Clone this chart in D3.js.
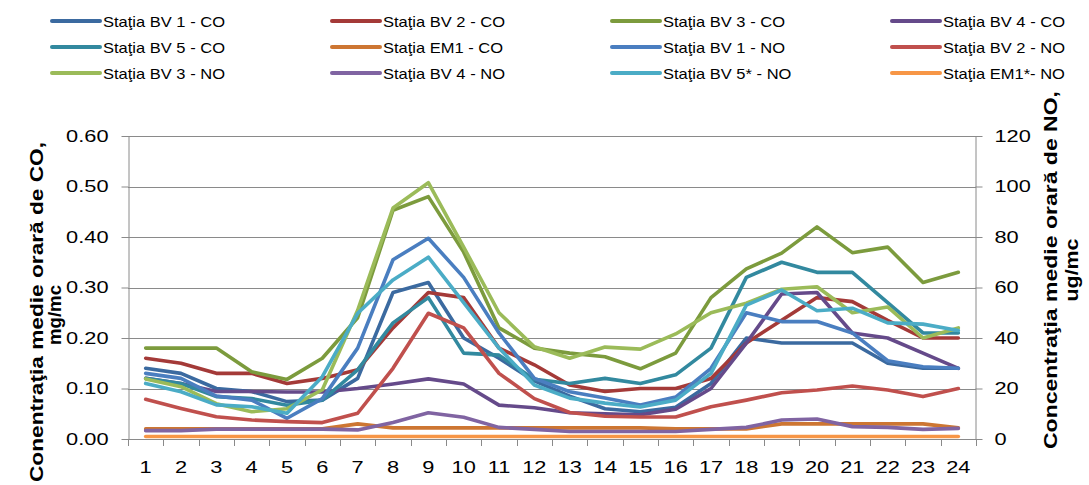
<!DOCTYPE html>
<html><head><meta charset="utf-8">
<script src="https://cdn.jsdelivr.net/npm/d3@7/dist/d3.min.js"></script>
<style>body{margin:0;background:#fff}svg{display:block}</style>
</head><body>
<svg id="c" width="1089" height="485"></svg>
<script>
// ---------- data ----------
const hours = ["1","2","3","4","5","6","7","8","9","10","11","12","13","14","15","16","17","18","19","20","21","22","23","24"];
const coTicks = [0, 0.1, 0.2, 0.3, 0.4, 0.5, 0.6];
const noTicks = [0, 20, 40, 60, 80, 100, 120];
const seriesNames = ["Staţia BV 1 - CO","Staţia BV 2 - CO","Staţia BV 3 - CO","Staţia BV 4 - CO",
  "Staţia BV 5 - CO","Staţia EM1 - CO","Staţia BV 1 - NO","Staţia BV 2 - NO",
  "Staţia BV 3 - NO","Staţia BV 4 - NO","Staţia BV 5* - NO","Staţia EM1*- NO"];
// CO, mg/mc (left axis)
const bv1CO = [0.14,0.13,0.10,0.094,0.074,0.077,0.12,0.29,0.31,0.20,0.16,0.115,0.085,0.06,0.054,0.063,0.11,0.20,0.19,0.19,0.19,0.15,0.14,0.14];
const bv2CO = [0.16,0.15,0.13,0.13,0.11,0.12,0.137,0.22,0.29,0.28,0.18,0.147,0.107,0.094,0.10,0.10,0.12,0.19,0.235,0.28,0.272,0.235,0.20,0.20];
const bv3CO = [0.18,0.18,0.18,0.133,0.118,0.16,0.24,0.453,0.48,0.37,0.22,0.18,0.17,0.163,0.139,0.17,0.28,0.337,0.368,0.42,0.369,0.38,0.31,0.33];
const bv4CO = [0.12,0.11,0.094,0.094,0.093,0.093,0.10,0.109,0.119,0.109,0.067,0.062,0.052,0.05,0.048,0.059,0.10,0.19,0.287,0.29,0.21,0.20,0.17,0.14];
const bv5CO = [0.12,0.11,0.084,0.08,0.067,0.077,0.137,0.23,0.28,0.17,0.166,0.118,0.11,0.12,0.11,0.127,0.18,0.32,0.35,0.33,0.33,0.27,0.21,0.21];
const em1CO = [0.02,0.02,0.02,0.02,0.02,0.02,0.03,0.022,0.022,0.022,0.022,0.022,0.022,0.022,0.022,0.02,0.02,0.02,0.03,0.03,0.03,0.03,0.03,0.022];
// NO, ug/mc (right axis)
const bv1NO = [26,24,17,15.4,8.2,16,36,71,79.5,64,42,24,18.7,16.2,13.5,16.6,28,50,46.5,46.5,42,31,28.6,28];
const bv2NO = [15.7,12.1,8.8,7.5,6.9,6.5,10.2,28,49.8,44,26,16,10.5,9,8.7,8.7,12.8,15.4,18.3,19.4,21,19.4,16.8,20];
const bv3NO = [23.8,20.7,14,10.8,12,19.5,51,91.5,101.5,76,50,36.5,32,36.4,35.6,41.6,50,53.8,59.3,60.3,50,52.3,40,44];
const bv4NO = [3.3,3.3,3.9,3.9,3.9,3.9,3.6,6.5,10.4,8.6,4.6,3.8,3,3,3,3,3.8,4.6,7.5,7.9,4.9,4.6,3.8,4.2];
const bv5NO = [22,18.7,13.5,12.8,10.2,24.7,49.8,63,72,54,36,21.4,16.2,14.2,12.7,15.4,26,53,59,50.8,51.8,46,45.5,43];
const em1NO = [1,1,1,1,1,1,1,1,1,1,1,1,1,1,1,1,1,1,1,1,1,1,1,1];

const seriesValues = [bv1CO,bv2CO,bv3CO,bv4CO,bv5CO,em1CO,bv1NO,bv2NO,bv3NO,bv4NO,bv5NO,em1NO];
const seriesAxis = ["L","L","L","L","L","L","R","R","R","R","R","R"];
const colors = ["#3B6AA0","#A43A38","#7C9B3D","#654A8A","#32899F","#CD7632",
                "#4A7EC0","#C0504D","#9BBB59","#8064A2","#4BACC6","#F79646"];

// ---------- layout ----------
const svg = d3.select("#c");
const FONT = "'Liberation Sans', Arial, sans-serif";
const L = 128, R = 976, T = 136, B = 439;
const x = d3.scaleBand().domain(hours).range([L, R]);
const yL = d3.scaleLinear().domain([0, 0.6]).range([B, T]);
const yR = d3.scaleLinear().domain([0, 120]).range([B, T]);
const GRID = "#8a8a8a";

function stretch(sel, f) {
  sel.each(function () {
    const len = this.getComputedTextLength();
    this.setAttribute("textLength", len * f);
    this.setAttribute("lengthAdjust", "spacingAndGlyphs");
  });
}

// gridlines
svg.append("g").selectAll("line").data(coTicks.slice(1)).join("line")
  .attr("x1", L).attr("x2", R)
  .attr("y1", d => Math.round(yL(d)) + 0.5).attr("y2", d => Math.round(yL(d)) + 0.5)
  .attr("stroke", GRID).attr("stroke-width", 1);

// left axis
const axL = svg.append("g").attr("transform", `translate(${L + 0.5},0)`)
  .call(d3.axisLeft(yL).tickValues(coTicks).tickFormat(d3.format(".2f")).tickSize(7).tickSizeOuter(0).tickPadding(13));
// right axis
const axR = svg.append("g").attr("transform", `translate(${R - 0.5},0)`)
  .call(d3.axisRight(yR).tickValues(noTicks).tickSize(7).tickSizeOuter(0).tickPadding(12));
// bottom axis (labels at band centres)
const axB = svg.append("g").attr("transform", `translate(0,${B + 0.5})`)
  .call(d3.axisBottom(x).tickSize(0).tickPadding(22));
axB.select(".domain").remove();
// category boundary ticks
svg.append("g").selectAll("line").data(hours.concat(["end"])).join("line")
  .attr("x1", d => Math.round(d === "end" ? R : x(d)) + 0.5)
  .attr("x2", d => Math.round(d === "end" ? R : x(d)) + 0.5)
  .attr("y1", B).attr("y2", B + 7).attr("stroke", GRID);
svg.append("line").attr("x1", L).attr("x2", R).attr("y1", B + 0.5).attr("y2", B + 0.5).attr("stroke", GRID);

[axL, axR, axB].forEach(a => {
  a.selectAll(".domain, .tick line").attr("stroke", GRID);
  a.selectAll("text").attr("font-family", FONT).attr("font-size", 16.5).attr("fill", "#000");
  stretch(a.selectAll("text"), 1.32);
});

// series lines
const line = d3.line().x((d, i) => x(hours[i]) + x.bandwidth() / 2);
const lines = svg.append("g").attr("fill", "none").attr("stroke-width", 3.6)
  .attr("stroke-linejoin", "round").attr("stroke-linecap", "round");
seriesValues.forEach((vals, k) => {
  const ys = seriesAxis[k] === "L" ? yL : yR;
  lines.append("path").datum(vals)
    .attr("d", line.y(d => ys(d)))
    .attr("stroke", colors[k]);
});

// legend
const colX = [52, 332, 612, 892];
const rowY = [21, 47, 73];
const leg = svg.append("g");
seriesNames.forEach((n, k) => {
  const cx = colX[k % 4], cy = rowY[Math.floor(k / 4)];
  leg.append("line").attr("x1", cx).attr("x2", cx + 48).attr("y1", cy).attr("y2", cy)
    .attr("stroke", colors[k]).attr("stroke-width", 4).attr("stroke-linecap", "round");
  leg.append("text").attr("x", cx + 51).attr("y", cy + 5.5).text(n)
    .attr("font-family", FONT).attr("font-size", 15).attr("fill", "#000");
});
stretch(leg.selectAll("text"), 1.1);

// axis titles
function vtitle(xb, yc, txt, len) {
  const t = svg.append("text")
    .attr("transform", `translate(${xb},${yc}) rotate(-90)`)
    .attr("text-anchor", "middle").attr("font-family", FONT).attr("font-weight", "bold")
    .attr("font-size", 19).attr("fill", "#000").text(txt);
  t.attr("textLength", len).attr("lengthAdjust", "spacingAndGlyphs");
}
vtitle(43, 312, "Conentraţia medie orară de CO,", 340);
vtitle(61, 315, "mg/mc", 60);
vtitle(1057, 270, "Concentraţia medie orară de NO,", 358);
vtitle(1078, 270, "ug/mc", 63);
</script>
</body></html>
